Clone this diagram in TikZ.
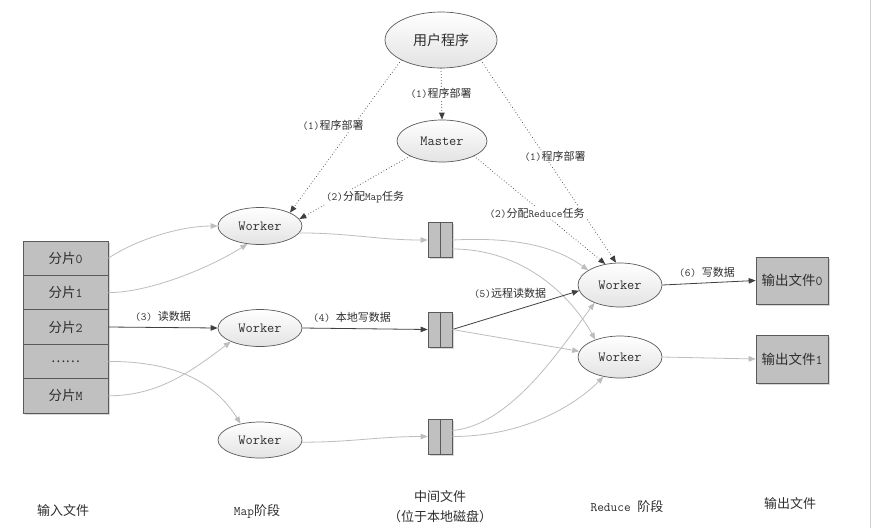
\documentclass[tikz,border=0pt]{standalone}
\usepackage{fontspec}
\newfontfamily\cjkfont{Noto Sans CJK SC}
\usetikzlibrary{shapes.geometric,arrows.meta,shadows}
\newcommand\zh[1]{{\cjkfont #1}}
\definecolor{txt}{HTML}{2E2E2E}
\definecolor{edgec}{HTML}{5A5A5A}
\definecolor{boxfill}{HTML}{C0C0C0}
\definecolor{darkline}{HTML}{404040}
\definecolor{lightline}{HTML}{BDBDBD}
\begin{document}
\begin{tikzpicture}[x=1pt,y=-1pt,
  every node/.style={text=txt},
  ell/.style={ellipse, draw=edgec, line width=0.7pt, top color=white, bottom color=black!11,
    inner sep=0pt, font=\ttfamily\fontsize{14}{15}\selectfont},
  filebox/.style={rectangle, draw=edgec, line width=0.7pt, fill=boxfill, inner sep=0pt,
    drop shadow={shadow xshift=1.5pt, shadow yshift=-1.5pt, opacity=0.3},
    font=\ttfamily\fontsize{13.5}{14}\selectfont},
  lbl/.style={font=\ttfamily\fontsize{11}{12}\selectfont, inner sep=1pt},
  dotlbl/.style={lbl, fill=white},
  caption/.style={font=\ttfamily\fontsize{13}{20}\selectfont, align=center},
  tip/.style={-{Triangle[length=7pt,width=5.5pt]}},
  darkarrow/.style={draw=darkline, line width=0.8pt, tip},
  greyarrow/.style={draw=lightline, line width=0.8pt, tip},
  dotarrow/.style={draw=black!75, line width=1pt, line cap=round, dash pattern=on 0pt off 3pt, tip},
]
\fill[white] (0,0) rectangle (874,528);
\useasboundingbox (0,0) rectangle (874,528);
\draw[black!18, line width=1.2pt] (870.5,0) -- (870.5,528);

% ellipses
\node[ell, minimum width=112pt, minimum height=56pt, font=\fontsize{14}{15}\selectfont] (user) at (441,40) {\zh{用户程序}};
\node[ell, minimum width=90pt, minimum height=42pt] (master) at (442,141) {Master};
\node[ell, minimum width=84pt, minimum height=37pt] (m1) at (260,226) {Worker};
\node[ell, minimum width=84pt, minimum height=37pt] (m2) at (260,328) {Worker};
\node[ell, minimum width=84pt, minimum height=36pt] (m3) at (260,440) {Worker};
\node[ell, minimum width=84pt, minimum height=44pt] (r1) at (620,285) {Worker};
\node[ell, minimum width=84pt, minimum height=42pt] (r2) at (620,357) {Worker};

% input chunks
\node[filebox, minimum width=85pt, minimum height=34.4pt] (c0) at (65.5,258.2) {\zh{分片}0};
\node[filebox, minimum width=85pt, minimum height=34.4pt] (c1) at (65.5,292.6) {\zh{分片}1};
\node[filebox, minimum width=85pt, minimum height=34.4pt] (c2) at (65.5,327.0) {\zh{分片}2};
\node[filebox, minimum width=85pt, minimum height=34.4pt] (c3) at (65.5,361.4) {\zh{……}};
\node[filebox, minimum width=85pt, minimum height=34.4pt] (c4) at (65.5,395.8) {\zh{分片}M};

% intermediate files
\node[filebox, minimum width=24pt, minimum height=35pt] (f1) at (440,240) {};
\node[filebox, minimum width=24pt, minimum height=35pt] (f2) at (440,329.5) {};
\node[filebox, minimum width=24pt, minimum height=35pt] (f3) at (440,436.5) {};
\draw[edgec, line width=0.7pt] (f1.north) -- (f1.south);
\draw[edgec, line width=0.7pt] (f2.north) -- (f2.south);
\draw[edgec, line width=0.7pt] (f3.north) -- (f3.south);

% output files
\node[filebox, minimum width=72pt, minimum height=47pt] (o0) at (792,280.5) {\zh{输出文件}0};
\node[filebox, minimum width=72pt, minimum height=48pt] (o1) at (792,359) {\zh{输出文件}1};

% dotted control arrows
\draw[dotarrow] (user.south) -- (master.north);
\draw[dotarrow] (user.south west) -- (m1.north east);
\draw[dotarrow] (user.south east) -- (r1.100);
\draw[dotarrow] (master.south west) -- (m1.10);
\draw[dotarrow] (master.south east) -- (r1.125);

% map phase
\draw[greyarrow] (c0.east) .. controls +(30,-20) and +(-35,0) .. (m1.west);
\draw[greyarrow] (c1.east) .. controls +(40,0) and +(-40,25) .. (m1.235);
\draw[darkarrow] (c2.east) -- (m2.west);
\draw[greyarrow] (c3.east) .. controls +(70,0) and +(-25,-40) .. (m3.140);
\draw[greyarrow] (c4.east) .. controls +(50,0) and +(-40,30) .. (m2.205);

\draw[greyarrow] (m1.-10) .. controls +(50,0) and +(-50,0) .. (f1.west);
\draw[darkarrow] (m2.east) -- (f2.west);
\draw[greyarrow] (m3.-3) .. controls +(50,0) and +(-50,0) .. (f3.west);

% reduce phase
\draw[greyarrow] (f1.east) .. controls +(60,-3) and +(-35,-25) .. (r1.155);
\draw[greyarrow] ([yshift=-9pt]f1.east) .. controls +(70,0) and +(-25,-45) .. (r2.145);
\draw[darkarrow] (f2.east) -- (r1.188);
\draw[greyarrow] (f2.east) -- (r2.172);
\draw[greyarrow] ([yshift=6pt]f3.east) .. controls +(60,-5) and +(-30,40) .. (r1.215);
\draw[greyarrow] (f3.east) .. controls +(70,0) and +(-30,30) .. (r2.230);

\draw[darkarrow] (r1.east) -- (o0.west);
\draw[greyarrow] (r2.east) -- (o1.west);

% labels
\node[dotlbl] (l1a) at (441,93) {(1)\zh{程序部署}};
\node[dotlbl] (l1b) at (333,125) {(1)\zh{程序部署}};
\node[dotlbl] (l1c) at (555,156) {(1)\zh{程序部署}};
\node[dotlbl] (l2a) at (365,197) {(2)\zh{分配}Map\zh{任务}};
\node[dotlbl] (l2b) at (537,213) {(2)\zh{分配}Reduce\zh{任务}};
\node[lbl] (l3) at (163,316) {(3) \zh{读数据}};
\node[lbl] (l4) at (352,317) {(4) \zh{本地写数据}};
\node[lbl] (l5) at (510,293) {(5)\zh{远程读数据}};
\node[lbl] (l6) at (707,272) {(6) \zh{写数据}};

% captions
\node[caption] (capin) at (63,511) {\zh{输入文件}};
\node[caption] (capmap) at (257,511) {Map\zh{阶段}};
\node[caption] (capmid) at (440,507) {\zh{中间文件}\\\zh{（位于本地磁盘）}};
\node[caption] (capred) at (627,507) {Reduce \zh{阶段}};
\node[caption] (capout) at (790,504) {\zh{输出文件}};
\end{tikzpicture}
\end{document}
